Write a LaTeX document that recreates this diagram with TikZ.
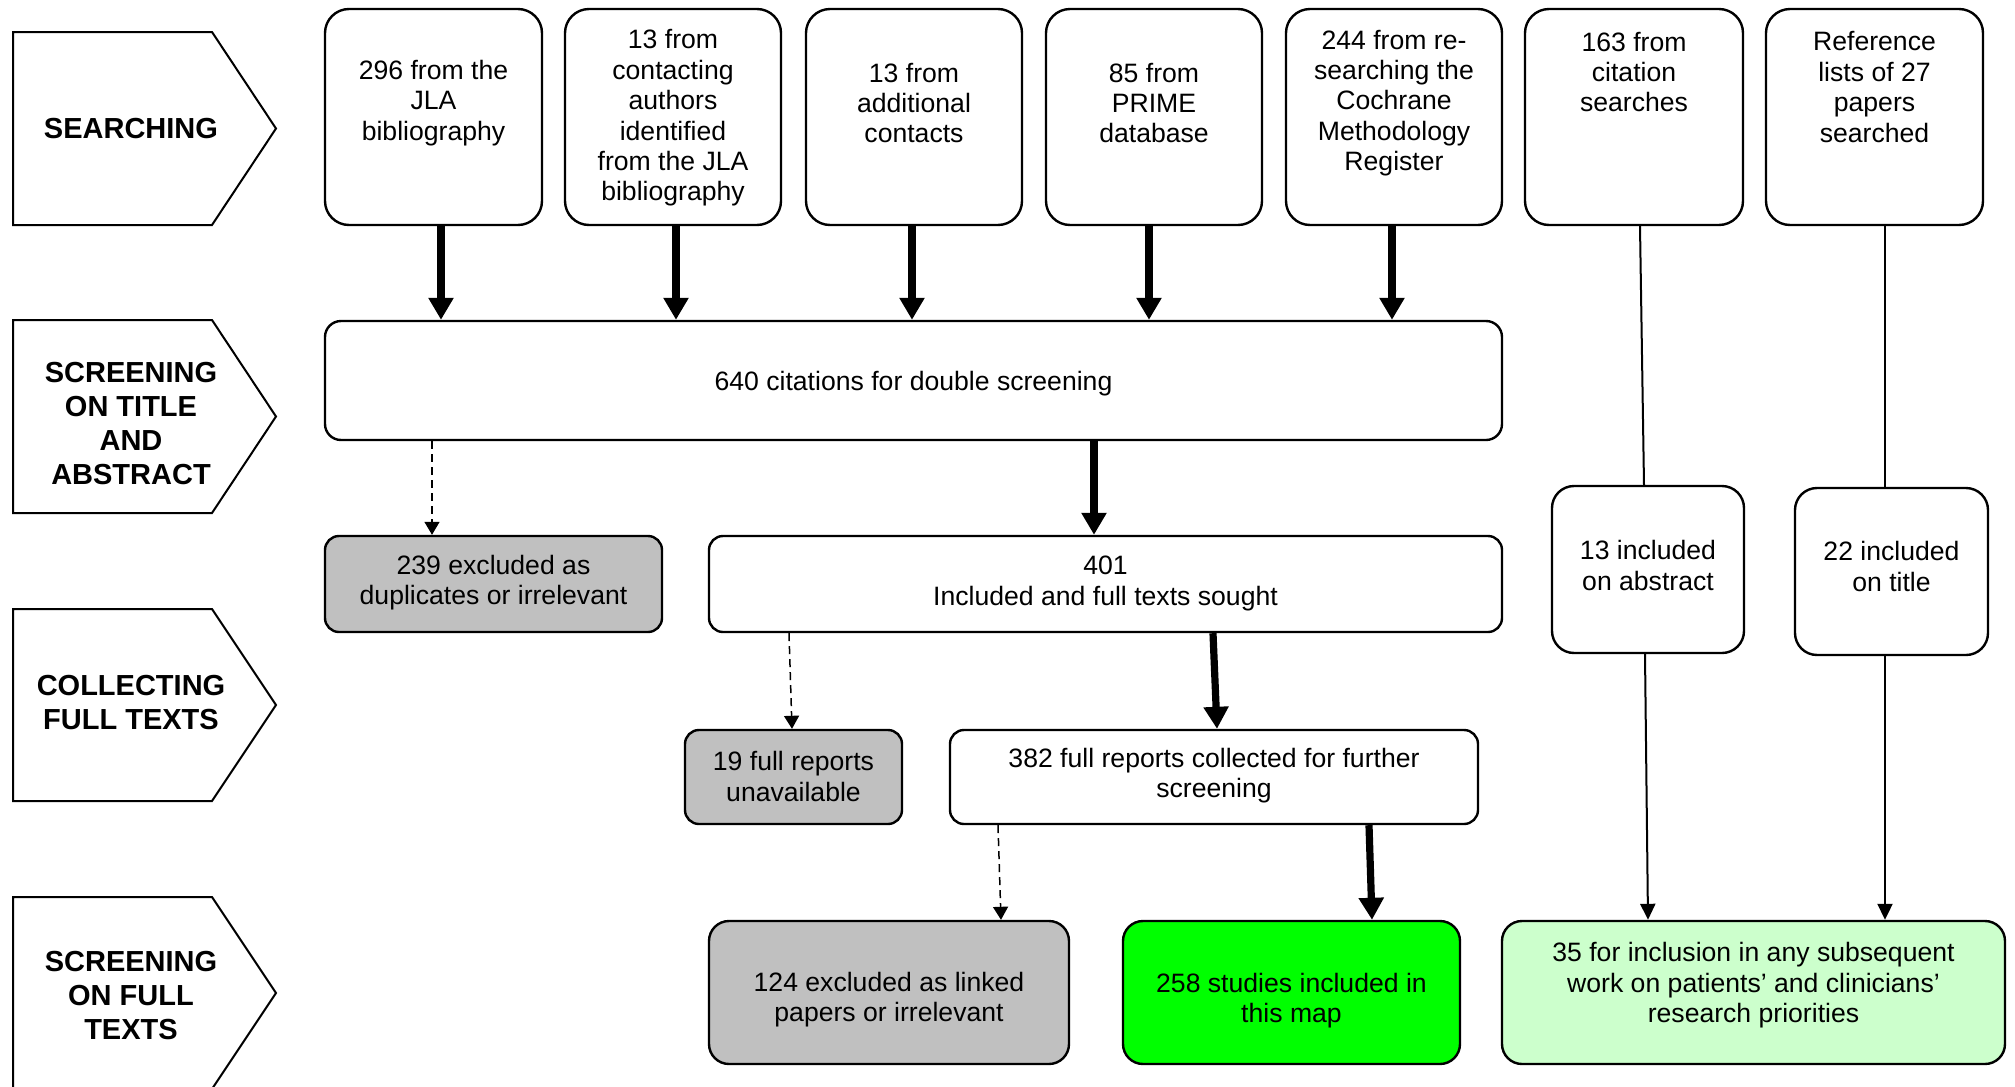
\documentclass[tikz,border=0pt]{standalone}
\usepackage{fontspec}
\setmainfont{Liberation Sans}
\usetikzlibrary{arrows.meta,calc,fit}
\definecolor{boxgray}{HTML}{C0C0C0}
\definecolor{mapgreen}{HTML}{00FF00}
\definecolor{palegreen}{HTML}{CCFFCC}
\begin{document}
\begin{tikzpicture}[x=0.5pt,y=-0.5pt,
  stage/.style={draw=black,line width=1pt,line join=miter},
  stagetext/.style={font=\fontsize{14.5}{17}\selectfont\bfseries,align=center,inner sep=0},
  box/.style={draw=black,line width=1.2pt,inner sep=0,rounded corners=#1},
  box/.default=7pt,
  txt/.style={font=\fontsize{13.3}{15.2}\selectfont,align=center,inner sep=0,yshift=-1.25pt},
  thickarrow/.style={line width=3.6pt,-{Triangle[width=12pt,length=11pt]}},
  dasharrow/.style={line width=0.75pt,dash pattern=on 4pt off 2.5pt,-{Triangle[width=7.5pt,length=6.5pt]}},
  thinline/.style={line width=1pt},
  thinarrow/.style={line width=1pt,-{Triangle[width=7.5pt,length=8pt]}},
]
\useasboundingbox (0,0) rectangle (2015,1087);
\fill[white] (0,0) rectangle (2015,1087);

% stage pentagons
\draw[stage] (13,32) -- (212,32) -- (276,128.5) -- (212,225) -- (13,225) -- cycle;
\draw[stage] (13,320) -- (212,320) -- (276,416.5) -- (212,513) -- (13,513) -- cycle;
\draw[stage] (13,609) -- (212,609) -- (276,705) -- (212,801) -- (13,801) -- cycle;
\begin{scope}
\clip (0,0) rectangle (2015,1087);
\draw[stage] (13,897) -- (212,897) -- (276,993) -- (212,1089) -- (13,1089) -- cycle;
\end{scope}
\node[stagetext] (s1) at (131,128.5) {SEARCHING};
\node[stagetext] (s2) at (131,424) {SCREENING\\ON TITLE\\AND\\ABSTRACT};
\node[stagetext] (s3) at (131,703) {COLLECTING\\FULL TEXTS};
\node[stagetext] (s4) at (131,996) {SCREENING\\ON FULL\\TEXTS};

% top boxes
\node[box=12pt,fit={(325,9) (542,225)}] (b1) {};
\node[box=12pt,fit={(565,9) (781,225)}] (b2) {};
\node[box=12pt,fit={(806,9) (1022,225)}] (b3) {};
\node[box=12pt,fit={(1046,9) (1262,225)}] (b4) {};
\node[box=12pt,fit={(1286,9) (1502,225)}] (b5) {};
\node[box=12pt,fit={(1525,9) (1743,225)}] (b6) {};
\node[box=12pt,fit={(1766,9) (1983,225)}] (b7) {};
\node[txt] (t1) at (433.5,100.5) {296 from the\\JLA\\bibliography};
\node[txt] (t2) at (673,115.5) {13 from\\contacting\\authors\\identified\\from the JLA\\bibliography};
\node[txt] (t3) at (914,100.5) {13 from\\additional\\contacts};
\node[txt] (t4) at (1154,100.5) {85 from\\PRIME\\database};
\node[txt] (t5) at (1394,100.5) {244 from re-\\searching the\\Cochrane\\Methodology\\Register};
\node[txt] (t6) at (1634,69.5) {163 from\\citation\\searches};
\node[txt] (t7) at (1874.5,84.5) {Reference\\lists of 27\\papers\\searched};

% other boxes
\node[box=8pt,fit={(325,321) (1502,440)}] (main) {};
\node[txt] (tmain) at (913.5,381) {640 citations for double screening};
\node[box=7pt,fill=boxgray,fit={(325,536) (662,632)}] (ex1) {};
\node[txt] (tex1) at (493.5,580) {239 excluded as\\duplicates or irrelevant};
\node[box=7pt,fit={(709,536) (1502,632)}] (inc) {};
\node[txt] (tinc) at (1105.5,581) {401\\Included and full texts sought};
\node[box=11pt,fit={(1552,486) (1744,653)}] (abs) {};
\node[txt] (tabs) at (1648,563) {13 included\\on abstract};
\node[box=11pt,fit={(1795,488) (1988,655)}] (tit) {};
\node[txt] (ttit) at (1891.5,564) {22 included\\on title};
\node[box=7pt,fill=boxgray,fit={(685,730) (902,824)}] (unav) {};
\node[txt] (tunav) at (793.5,774) {19 full reports\\unavailable};
\node[box=7pt,fit={(950,730) (1478,824)}] (full) {};
\node[txt] (tfull) at (1214,773) {382 full reports collected for further\\screening};
\node[box=10pt,fill=boxgray,fit={(709,921) (1069,1064)}] (ex2) {};
\node[txt] (tex2) at (889,997) {124 excluded as linked\\papers or irrelevant};
\node[box=10pt,fill=mapgreen,fit={(1123,921) (1460,1064)}] (map) {};
\node[txt] (tmap) at (1291.5,998) {258 studies included in\\this map};
\node[box=10pt,fill=palegreen,fit={(1502,921) (2005,1064)}] (sub) {};
\node[txt] (tsub) at (1753.5,983) {35 for inclusion in any subsequent\\work on patients’ and clinicians’\\research priorities};

% thick arrows
\draw[thickarrow] ($(b1.south)+(7.5,0)$) -- ($(main.north)+(-472.5,0)$);
\draw[thickarrow] ($(b2.south)+(3,0)$) -- ($(main.north)+(-237.5,0)$);
\draw[thickarrow] ($(b3.south)+(-2,0)$) -- ($(main.north)+(-1.5,0)$);
\draw[thickarrow] ($(b4.south)+(-5,0)$) -- ($(main.north)+(235.5,0)$);
\draw[thickarrow] ($(b5.south)+(-2,0)$) -- ($(main.north)+(478.5,0)$);
\draw[thickarrow] ($(main.south)+(180.5,0)$) -- ($(inc.north)+(-11.5,0)$);
\draw[thickarrow] ($(inc.south)+(107.5,0)$) -- ($(full.north)+(3,0)$);
\draw[thickarrow] ($(full.south)+(155,0)$) -- ($(map.north)+(80.5,0)$);

% dashed arrows
\draw[dasharrow] ($(main.south)+(-481.5,0)$) -- ($(ex1.north)+(-61.5,0)$);
\draw[dasharrow] ($(inc.south)+(-316.5,0)$) -- ($(unav.north)+(-1.5,0)$);
\draw[dasharrow] ($(full.south)+(-216,0)$) -- ($(ex2.north)+(112,0)$);

% thin lines and arrows
\draw[thinline] ($(b6.south)+(6,0)$) -- ($(abs.north)+(-4,0)$);
\draw[thinline] ($(b7.south)+(10.5,0)$) -- ($(tit.north)+(-6.5,0)$);
\draw[thinarrow] ($(abs.south)+(-3,0)$) -- ($(sub.north)+(-105.5,0)$);
\draw[thinarrow] ($(tit.south)+(-6.5,0)$) -- ($(sub.north)+(131.5,0)$);
\end{tikzpicture}
\end{document}
